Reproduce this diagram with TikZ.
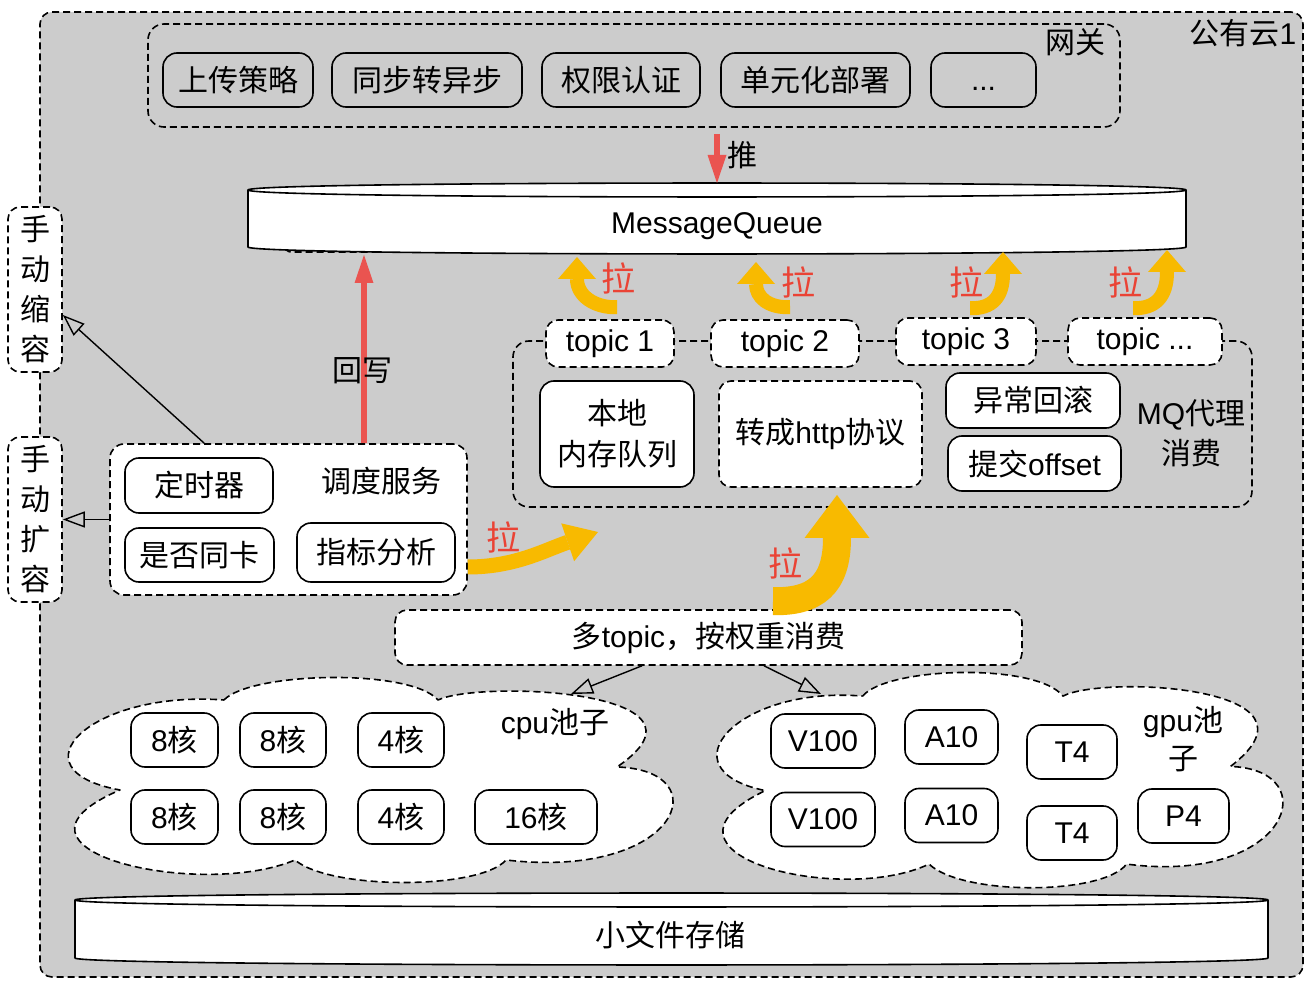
\documentclass[tikz,border=0pt]{standalone}
\usepackage{fontspec}
\setmainfont{Liberation Sans}
\newfontfamily\cjk{Noto Sans CJK SC}
\usetikzlibrary{arrows.meta}
\definecolor{bggray}{RGB}{204,204,204}
\definecolor{pullyellow}{RGB}{248,186,0}
\definecolor{pullred}{RGB}{234,67,53}
\definecolor{pushred}{RGB}{234,84,80}
% Chinese characters are set in the CJK font, the rest in Liberation Sans
\XeTeXinterchartokenstate=1
\newXeTeXintercharclass\cjkclass
\newcount\cjkcode
\cjkcode="3000 \loop\XeTeXcharclass\cjkcode=\cjkclass\ifnum\cjkcode<"303F \advance\cjkcode 1 \repeat
\cjkcode="4E00 \loop\XeTeXcharclass\cjkcode=\cjkclass\ifnum\cjkcode<"9FFF \advance\cjkcode 1 \repeat
\cjkcode="FF00 \loop\XeTeXcharclass\cjkcode=\cjkclass\ifnum\cjkcode<"FFEF \advance\cjkcode 1 \repeat
\XeTeXinterchartoks 0 \cjkclass={\cjk}
\XeTeXinterchartoks 4095 \cjkclass={\cjk}
\XeTeXinterchartoks \cjkclass 0={\rmfamily}
% outline of a pool cloud, 606 x 202 units
\newcommand{\cloudpath}{(162,22) .. controls (188,-6) and (348,-10) .. (376,22)
  .. controls (418,2) and (668,12) .. (555,89)
  .. controls (658,92) and (618,202) .. (444,182)
  .. controls (418,212) and (268,212) .. (233,182)
  .. controls (138,222) and (-82,172) .. (58,112)
  .. controls (-52,92) and (28,12) .. (162,22) -- cycle}

\begin{document}
\begin{tikzpicture}[line cap=butt,line join=round,x=0.5pt,y=-0.5pt,
  every node/.style={font=\fontsize{15}{18}\selectfont},
  dashbox/.style={draw,line width=0.8pt,dash pattern=on 3.5pt off 2pt},
  whitebox/.style={dashbox,fill=white,rounded corners=6pt,inner sep=0pt},
  solidbox/.style={draw,line width=0.8pt,rounded corners=7pt,inner sep=0pt},
  stackbox/.style={align=center,font=\fontsize{15}{20}\selectfont},
  pullarrow/.style={draw=pullyellow,line width=7pt,-{Triangle[width=19pt,length=11pt,line width=0pt]}},
  bigpull/.style={pullarrow,line width=14pt,-{Triangle[width=32.5pt,length=21.5pt,line width=0pt]}},
  pulltext/.style={text=pullred,font=\fontsize{17}{20}\selectfont},
  redarrow/.style={draw=pushred,line width=2.6pt,-{Triangle[width=9.5pt,length=14pt,line width=0pt]}},
  openarrow/.style={draw,line width=0.7pt,-{Triangle[open,width=8pt,length=11pt]}}]
\useasboundingbox (0,0) rectangle (1314,984);

% public cloud
\node[dashbox,fill=bggray,rounded corners=6pt,minimum width=631.5pt,minimum height=482.5pt] (pub) at (671.5,494.5) {};
\node (publbl) at (1243,33) {公有云1};

% gateway
\node[dashbox,rounded corners=8pt,minimum width=486pt,minimum height=51.5pt] (gw) at (634,75.5) {};
\node (gwlbl) at (1075,42) {网关};
\foreach \nm/\cx/\w/\txt in {upload/238/75pt/上传策略,sync/427/95pt/同步转异步,auth/621/79pt/权限认证,unit/815.5/94.5pt/单元化部署}
  \node[solidbox,minimum width=\w,minimum height=27pt] (\nm) at (\cx,80) {\txt};
\node[solidbox,minimum width=52.5pt,minimum height=27pt] (more) at (983.5,80) {\vphantom{A}...};

% message queue
\draw[dashbox,rounded corners=3pt] (285,220) rectangle (442,252);
\filldraw[fill=white,line width=0.8pt] (248,190) -- (248,247) .. controls (248,256.3) and (1186,256.3) .. (1186,247)
  -- (1186,190) .. controls (1186,180.7) and (248,180.7) .. (248,190) -- cycle;
\draw[line width=0.8pt] (248,190) .. controls (248,199.3) and (1186,199.3) .. (1186,190);
\node (mq) at (717,226) {MessageQueue};
\coordinate (mqtop) at (717,183);
\coordinate (mqback) at (364,255);

% mq proxy
\node[dashbox,rounded corners=8pt,minimum width=369.5pt,minimum height=83pt] (proxy) at (882.5,424) {};
\node[stackbox] (proxylbl) at (1191,433) {MQ代理\\消费};
\node[whitebox,minimum width=64pt,minimum height=23.5pt] (t1) at (610,343.5) {topic 1};
\node[whitebox,minimum width=74pt,minimum height=23.5pt] (t2) at (785,343.5) {topic 2};
\node[whitebox,minimum width=70pt,minimum height=23.5pt] (t3) at (966,341.5) {topic 3};
\node[whitebox,minimum width=77pt,minimum height=23.5pt] (t4) at (1145,341.5) {topic ...};
\node[solidbox,fill=white,stackbox,font=\fontsize{15}{20.5}\selectfont,minimum width=77pt,minimum height=53pt] (memq) at (617,434) {本地\\内存队列};
\node[whitebox,minimum width=101.5pt,minimum height=53pt] (http) at (820.5,434) {转成http协议};
\node[solidbox,fill=white,minimum width=87pt,minimum height=27.5pt] (rollback) at (1033,400.5) {异常回滚};
\node[solidbox,fill=white,minimum width=86.5pt,minimum height=27.5pt] (offset) at (1034.5,463.5) {提交offset};

% scheduler
\node[whitebox,rounded corners=7pt,minimum width=178.5pt,minimum height=75.5pt] (sched) at (288.5,519.5) {};
\node (schedlbl) at (381,481) {调度服务};
\node[solidbox,minimum width=74pt,minimum height=27.5pt] (timer) at (199,485.5) {定时器};
\node[solidbox,minimum width=74.5pt,minimum height=27pt] (samecard) at (199.5,555) {是否同卡};
\node[solidbox,minimum width=79pt,minimum height=29.5pt] (metric) at (376,552.5) {指标分析};

% manual scaling
\node[whitebox,stackbox,minimum width=27pt,minimum height=82.5pt] (shrink) at (35,289.5) {手\\动\\缩\\容};
\node[whitebox,stackbox,minimum width=27pt,minimum height=82.5pt] (expand) at (35,519.5) {手\\动\\扩\\容};

% dispatch
\node[whitebox,minimum width=313.5pt,minimum height=27.5pt] (multi) at (708.5,637.5) {多topic，按权重消费};

% pools
\filldraw[dashbox,fill=white,shift={(62,678)}] \cloudpath;
\filldraw[dashbox,fill=white,shift={(711,673)},xscale=0.936,yscale=1.05] \cloudpath;
\foreach \nm/\cx/\cy/\w/\txt in {cpu1/174.5/740/43.5pt/8核,cpu2/283/740/43pt/8核,cpu3/401/740/43pt/4核,
    cpu4/174.5/817/43.5pt/8核,cpu5/283/817/43pt/8核,cpu6/401/817/43pt/4核,cpu7/536/817/61pt/16核}
  \node[solidbox,minimum width=\w,minimum height=27pt] (\nm) at (\cx,\cy) {\txt};
\node (cpulbl) at (555,724) {cpu池子};
\foreach \nm/\cx/\cy/\w/\txt in {gpu1/823/741/52pt/V100,gpu2/951.5/737/46.5pt/A10,gpu3/1072/752/45pt/T4,
    gpu4/823/819.5/52pt/V100,gpu5/951.5/815.5/46.5pt/A10,gpu6/1072/833/45pt/T4,gpu7/1183.5/816/45.5pt/P4}
  \node[solidbox,minimum width=\w,minimum height=27pt] (\nm) at (\cx,\cy) {\txt};
\node[stackbox,font=\fontsize{15}{19}\selectfont] (gpulbl) at (1183,739) {gpu池\\子};

% storage
\filldraw[fill=white,line width=0.8pt] (75,900) -- (75,958) .. controls (75,967.3) and (1268,967.3) .. (1268,958)
  -- (1268,900) .. controls (1268,890.7) and (75,890.7) .. (75,900) -- cycle;
\draw[line width=0.8pt] (75,900) .. controls (75,909.3) and (1268,909.3) .. (1268,900);
\node (store) at (670,935) {小文件存储};

% connectors
\draw[redarrow] ([yshift=-3pt]gw.south -| mqtop) -- (mqtop);
\node (pushlbl) at (742,155) {推};
\draw[redarrow] (sched.north -| mqback) -- (mqback);
\node (backlbl) at (362,371) {回写};
\draw[openarrow] ([xshift=47.5pt]sched.north west) -- ([yshift=-12.75pt]shrink.east);
\draw[openarrow] (sched.west) -- (expand.east);
\coordinate (cpupool) at (571,694);
\coordinate (gpupool) at (821,694);
\draw[openarrow] ([xshift=-33.25pt]multi.south) -- (cpupool);
\draw[openarrow] ([xshift=27.75pt]multi.south) -- (gpupool);

% pulls
\draw[pullarrow] ([shift={(3.5pt,6pt)}]t1.north) .. controls (595,308) and (577,296) .. (577,257);
\draw[pullarrow] ([shift={(2.5pt,6pt)}]t2.north) .. controls (768,308) and (756,297) .. (756,262);
\draw[pullarrow] ([shift={(2pt,4.5pt)}]t3.north) .. controls (992,309) and (1003,297) .. (1003,252);
\draw[pullarrow] ([shift={(-6pt,4.5pt)}]t4.north) .. controls (1155,309) and (1167,297) .. (1167,250);
\draw[pullarrow,line width=7.5pt,-{Triangle[width=20pt,length=16pt,line width=0pt]}] ([yshift=-23.75pt]sched.east) .. controls (515,567) and (545,550) .. (598,532);
\draw[bigpull] ([shift={(32.25pt,4pt)}]multi.north) .. controls (815,602) and (837,585) .. (837,495);
\node[pulltext] (pull1) at (618,278) {拉};
\node[pulltext] (pull2) at (798,282) {拉};
\node[pulltext] (pull3) at (966,282) {拉};
\node[pulltext] (pull4) at (1125,282) {拉};
\node[pulltext] (pull5) at (503,537) {拉};
\node[pulltext] (pull6) at (785,563) {拉};
\end{tikzpicture}
\end{document}
